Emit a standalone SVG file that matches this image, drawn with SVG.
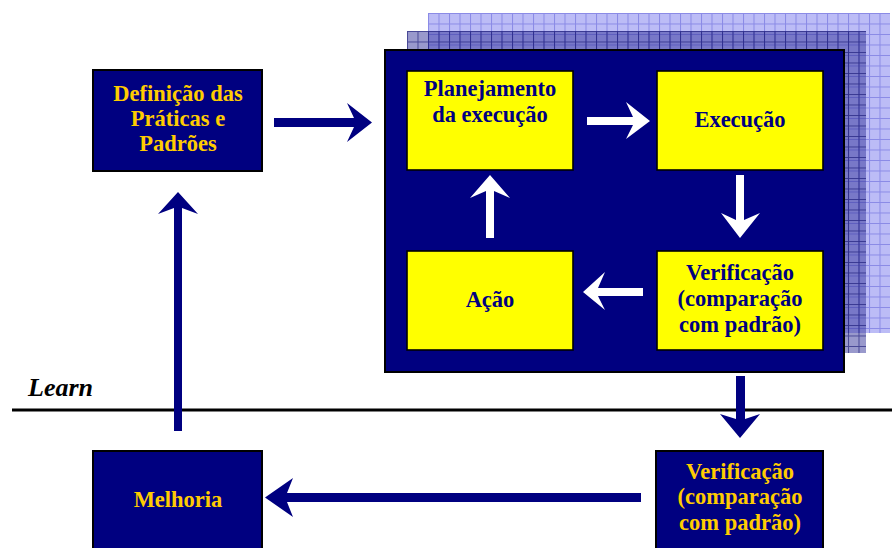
<svg xmlns="http://www.w3.org/2000/svg" width="892" height="548" viewBox="0 0 892 548">
<defs>
<pattern id="gridLight" patternUnits="userSpaceOnUse" x="428" y="13" width="10.5" height="10.5">
<rect width="10.5" height="10.5" fill="#bcbcf6"/>
<path d="M0,0.5 H10.5 M0.5,0 V10.5" stroke="#8a8ae6" stroke-width="1" fill="none"/>
</pattern>
<pattern id="gridDark" patternUnits="userSpaceOnUse" x="407" y="31" width="10.5" height="10.5">
<rect width="10.5" height="10.5" fill="#34349a" fill-opacity="0.5"/>
<path d="M0,0.5 H10.5 M0.5,0 V10.5" stroke="#101070" stroke-opacity="0.6" stroke-width="1" fill="none"/>
</pattern>
<style>
.navy{fill:#000080;stroke:#000;stroke-width:2}
.yel{fill:#ffff00;stroke:#000;stroke-width:1.6}
.t{font-family:"Liberation Serif","Times New Roman",serif;font-weight:bold;font-size:22.5px;text-anchor:middle}
.tg{fill:#ffcc00}
.tn{fill:#000080}
.an{fill:#000080}
.aw{fill:#ffffff}
</style>
</defs>
<rect width="892" height="548" fill="#ffffff"/>

<g id="container">
<rect x="428" y="13" width="462" height="320" fill="url(#gridLight)"/>
<rect x="407" y="31" width="459" height="322" fill="url(#gridDark)"/>
<rect x="385" y="50" width="459" height="322" class="navy"/>
</g>

<g id="planejamento">
<rect x="407" y="71" width="166" height="99" class="yel"/>
<text class="t tn" x="490" y="96">Planejamento</text>
<text class="t tn" x="490" y="122">da execução</text>
</g>
<g id="execucao">
<rect x="657" y="71" width="166" height="99" class="yel"/>
<text class="t tn" x="740" y="127">Execução</text>
</g>
<g id="acao">
<rect x="407" y="251" width="166" height="99" class="yel"/>
<text class="t tn" x="490" y="307">Ação</text>
</g>
<g id="verificacao1">
<rect x="657" y="251" width="166" height="99" class="yel"/>
<text class="t tn" x="740" y="280">Verificação</text>
<text class="t tn" x="740" y="306">(comparação</text>
<text class="t tn" x="740" y="332">com padrão)</text>
</g>

<g id="definicao">
<rect x="93" y="70" width="169" height="101" class="navy"/>
<text class="t tg" x="178" y="101">Definição das</text>
<text class="t tg" x="178" y="126">Práticas e</text>
<text class="t tg" x="178" y="151">Padrões</text>
</g>
<g id="melhoria">
<rect x="93" y="451" width="169" height="100" class="navy"/>
<text class="t tg" x="178" y="507">Melhoria</text>
</g>
<g id="verificacao2">
<rect x="656" y="451" width="167" height="100" class="navy"/>
<text class="t tg" x="740" y="479">Verificação</text>
<text class="t tg" x="740" y="504">(comparação</text>
<text class="t tg" x="740" y="530">com padrão)</text>
</g>

<g id="learn">
<line x1="12" y1="410" x2="892" y2="410" stroke="#000" stroke-width="3"/>
<text x="28" y="396" font-family="Liberation Serif,'Times New Roman',serif" font-weight="bold" font-style="italic" font-size="26" fill="#000">Learn</text>
</g>

<g id="connectors">
<path class="an" d="M274,118 H354 L347,103 L372,122.5 L347,142 L354,127 H274 Z"/>
<path class="an" d="M174,431 V208 L158,214 L178,192 L198,214 L182,208 V431 Z"/>
<path class="an" d="M736,376 V419 L720,414 L740,438 L760,414 L745,419 V376 Z"/>
<path class="an" d="M641,493 H287 L293,478 L265,497.5 L293,517 L287,502 H641 Z"/>
<path class="aw" d="M587,117 H633 L626,102 L650,121 L626,139 L633,125 H587 Z"/>
<path class="aw" d="M736,175 V220 L721,213 L740,238 L760,213 L744,220 V175 Z"/>
<path class="aw" d="M486,238 V191 L470,198 L490,175 L510,198 L494,191 V238 Z"/>
<path class="aw" d="M643,288 H598 L605,272 L583,292 L605,310 L598,296 H643 Z"/>
</g>
</svg>
